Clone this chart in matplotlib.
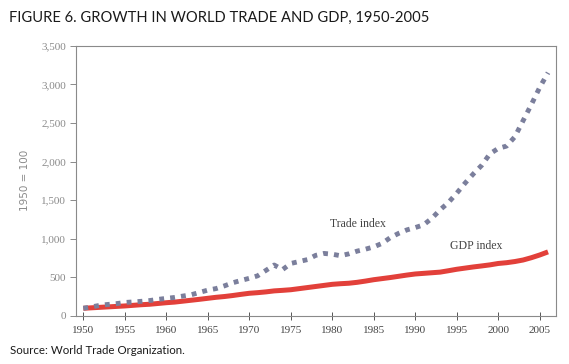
import matplotlib.pyplot as plt
import numpy as np

# values (index, 1950 = 100)
years = list(range(1950, 2007))
trade = [100, 118, 138, 150, 160, 175, 182, 190, 200, 215,
         228, 240, 258, 275, 305, 335, 355, 390, 430, 460,
         488, 520, 590, 660, 600, 680, 705, 730, 785, 810,
         800, 780, 805, 840, 865, 895, 940, 1015, 1070, 1115,
         1145, 1180, 1265, 1375, 1470, 1590, 1720, 1840, 1950, 2100,
         2170, 2200, 2320, 2530, 2740, 2960, 3150]
gdp = [100, 106, 112, 118, 124, 130, 138, 146, 152, 162,
       172, 180, 192, 204, 216, 229, 242, 252, 265, 280,
       294, 302, 312, 325, 332, 340, 354, 368, 382, 396,
       410, 418, 424, 436, 452, 470, 484, 498, 514, 530,
       544, 552, 560, 568, 586, 605, 620, 635, 648, 662,
       680, 690, 705, 725, 755, 790, 830]

yticks = [0, 500, 1000, 1500, 2000, 2500, 3000, 3500]
ytick_labels = ['0', '500', '1,000', '1,500', '2,000', '2,500', '3,000', '3,500']
xticks = list(range(1950, 2006, 5))

fig = plt.figure(figsize=(5.69, 3.64), dpi=100)
ax = fig.add_axes([0.1336, 0.1319, 0.977 - 0.1336, 0.8745 - 0.1319])

# GDP: thick red band
ax.plot(years, gdp, color='#e2403a', lw=3.6, solid_capstyle='butt', zorder=3)
# trade: thick dotted grey-blue
ax.plot(years, trade, color='#7b7f9c', lw=3.5, linestyle=(0, (1, 1.25)),
        dash_capstyle='butt', zorder=3)

ax.set_xlim(1949.12, 2006.95)
ax.set_ylim(0, 3500)
ax.set_yticks(yticks)
ax.set_yticklabels(ytick_labels)
ax.set_xticks(xticks)

for s in ax.spines.values():
    s.set_color('#8a8a8a')
    s.set_linewidth(0.8)
for s in ['top', 'right']:
    ax.spines[s].set_linestyle((0, (1, 1)))

ax.tick_params(axis='y', direction='out', length=4, width=0.7, color='#8a8a8a',
               labelsize=8, labelcolor='#8a8a8a', pad=3)
ax.tick_params(axis='x', direction='inout', length=6, width=0.7, color='#555555',
               labelsize=8, labelcolor='#444444', pad=4)
for lab in ax.get_xticklabels() + ax.get_yticklabels():
    lab.set_family('Liberation Serif')

ax.set_ylabel('1950 = 100', fontsize=7.5, color='#8a8a8a', labelpad=8,
              family='DejaVu Sans')

ax.text(1979.7, 1190, 'Trade index', fontsize=8.5, color='#444444',
        family='Liberation Serif', va='center')
ax.text(1994.2, 900, 'GDP index', fontsize=8.5, color='#444444',
        family='Liberation Serif', va='center')

fig.text(0.015, 0.95, 'FIGURE 6. GROWTH IN WORLD TRADE AND GDP, 1950-2005',
         fontsize=10.6, color='#1a1a1a', family='Lato', va='center')
fig.text(0.018, 0.038, 'Source: World Trade Organization.', fontsize=8.3,
         color='#1a1a1a', family='Lato', va='center')

fig.savefig('out.png', dpi=100)
